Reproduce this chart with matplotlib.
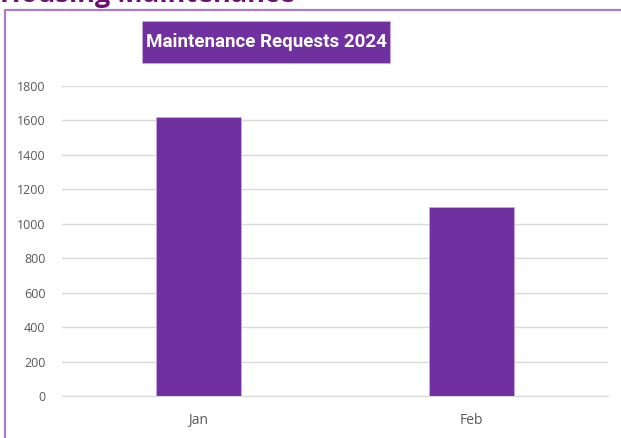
import matplotlib.pyplot as plt
from matplotlib.lines import Line2D
from matplotlib.patches import Rectangle

months = ["Jan", "Feb"]
requests = [1620, 1100]
y_ticks = [0, 200, 400, 600, 800, 1000, 1200, 1400, 1600, 1800]

purple = "#7030A0"
W, H = 621, 438

fig = plt.figure(figsize=(W / 100, H / 100), dpi=100)
fig.patch.set_facecolor("white")

# sheet heading, mostly scrolled off the top
fig.text(0.0, 1 - 2.5 / H, "Housing Maintenance", fontsize=19.5, fontweight="bold",
         color="#6B1070", family="Open Sans", va="baseline", ha="left")

# chart border (left and top edges)
fig.add_artist(Line2D([5 / W, 5 / W, 1.0], [0.0, 1 - 10 / H, 1 - 10 / H],
                      transform=fig.transFigure, color="#A77BD0", lw=1.6))

ax = fig.add_axes([62 / W, 1 - 396 / H, (608 - 62) / W, (396 - 86) / H])
x = range(len(months))
ax.bar(x, requests, width=0.31, color=purple, edgecolor="#C9A9E6", linewidth=0.6,
       zorder=3)

ax.set_xlim(-0.5, 1.5)
ax.set_ylim(0, 1800)
ax.set_yticks(y_ticks)
ax.set_yticklabels([str(v) for v in y_ticks])
ax.set_xticks(list(x))
ax.set_xticklabels(months)
ax.tick_params(axis="both", length=0, labelsize=9, colors="#595959")
ax.tick_params(axis="y", pad=12)
ax.tick_params(axis="x", labelsize=10, pad=12)
for lbl in ax.get_xticklabels() + ax.get_yticklabels():
    lbl.set_family("Open Sans")

ax.grid(axis="y", color="#D9D9D9", lw=1, zorder=0)
for s in ["top", "right", "left"]:
    ax.spines[s].set_visible(False)
ax.spines["bottom"].set_color("#D9D9D9")
ax.spines["bottom"].set_zorder(4)

# boxed chart title
fig.add_artist(Rectangle((142 / W, 1 - 63 / H), 248 / W, 42 / H,
                         transform=fig.transFigure, facecolor=purple,
                         edgecolor="#C9A9E6", lw=0.6, zorder=1))
fig.text(266 / W, 1 - 42 / H, "Maintenance Requests 2024", fontsize=13.5,
         fontweight="bold", color="white", family="Roboto",
         ha="center", va="center", zorder=2)

fig.savefig("out.png", dpi=100)
